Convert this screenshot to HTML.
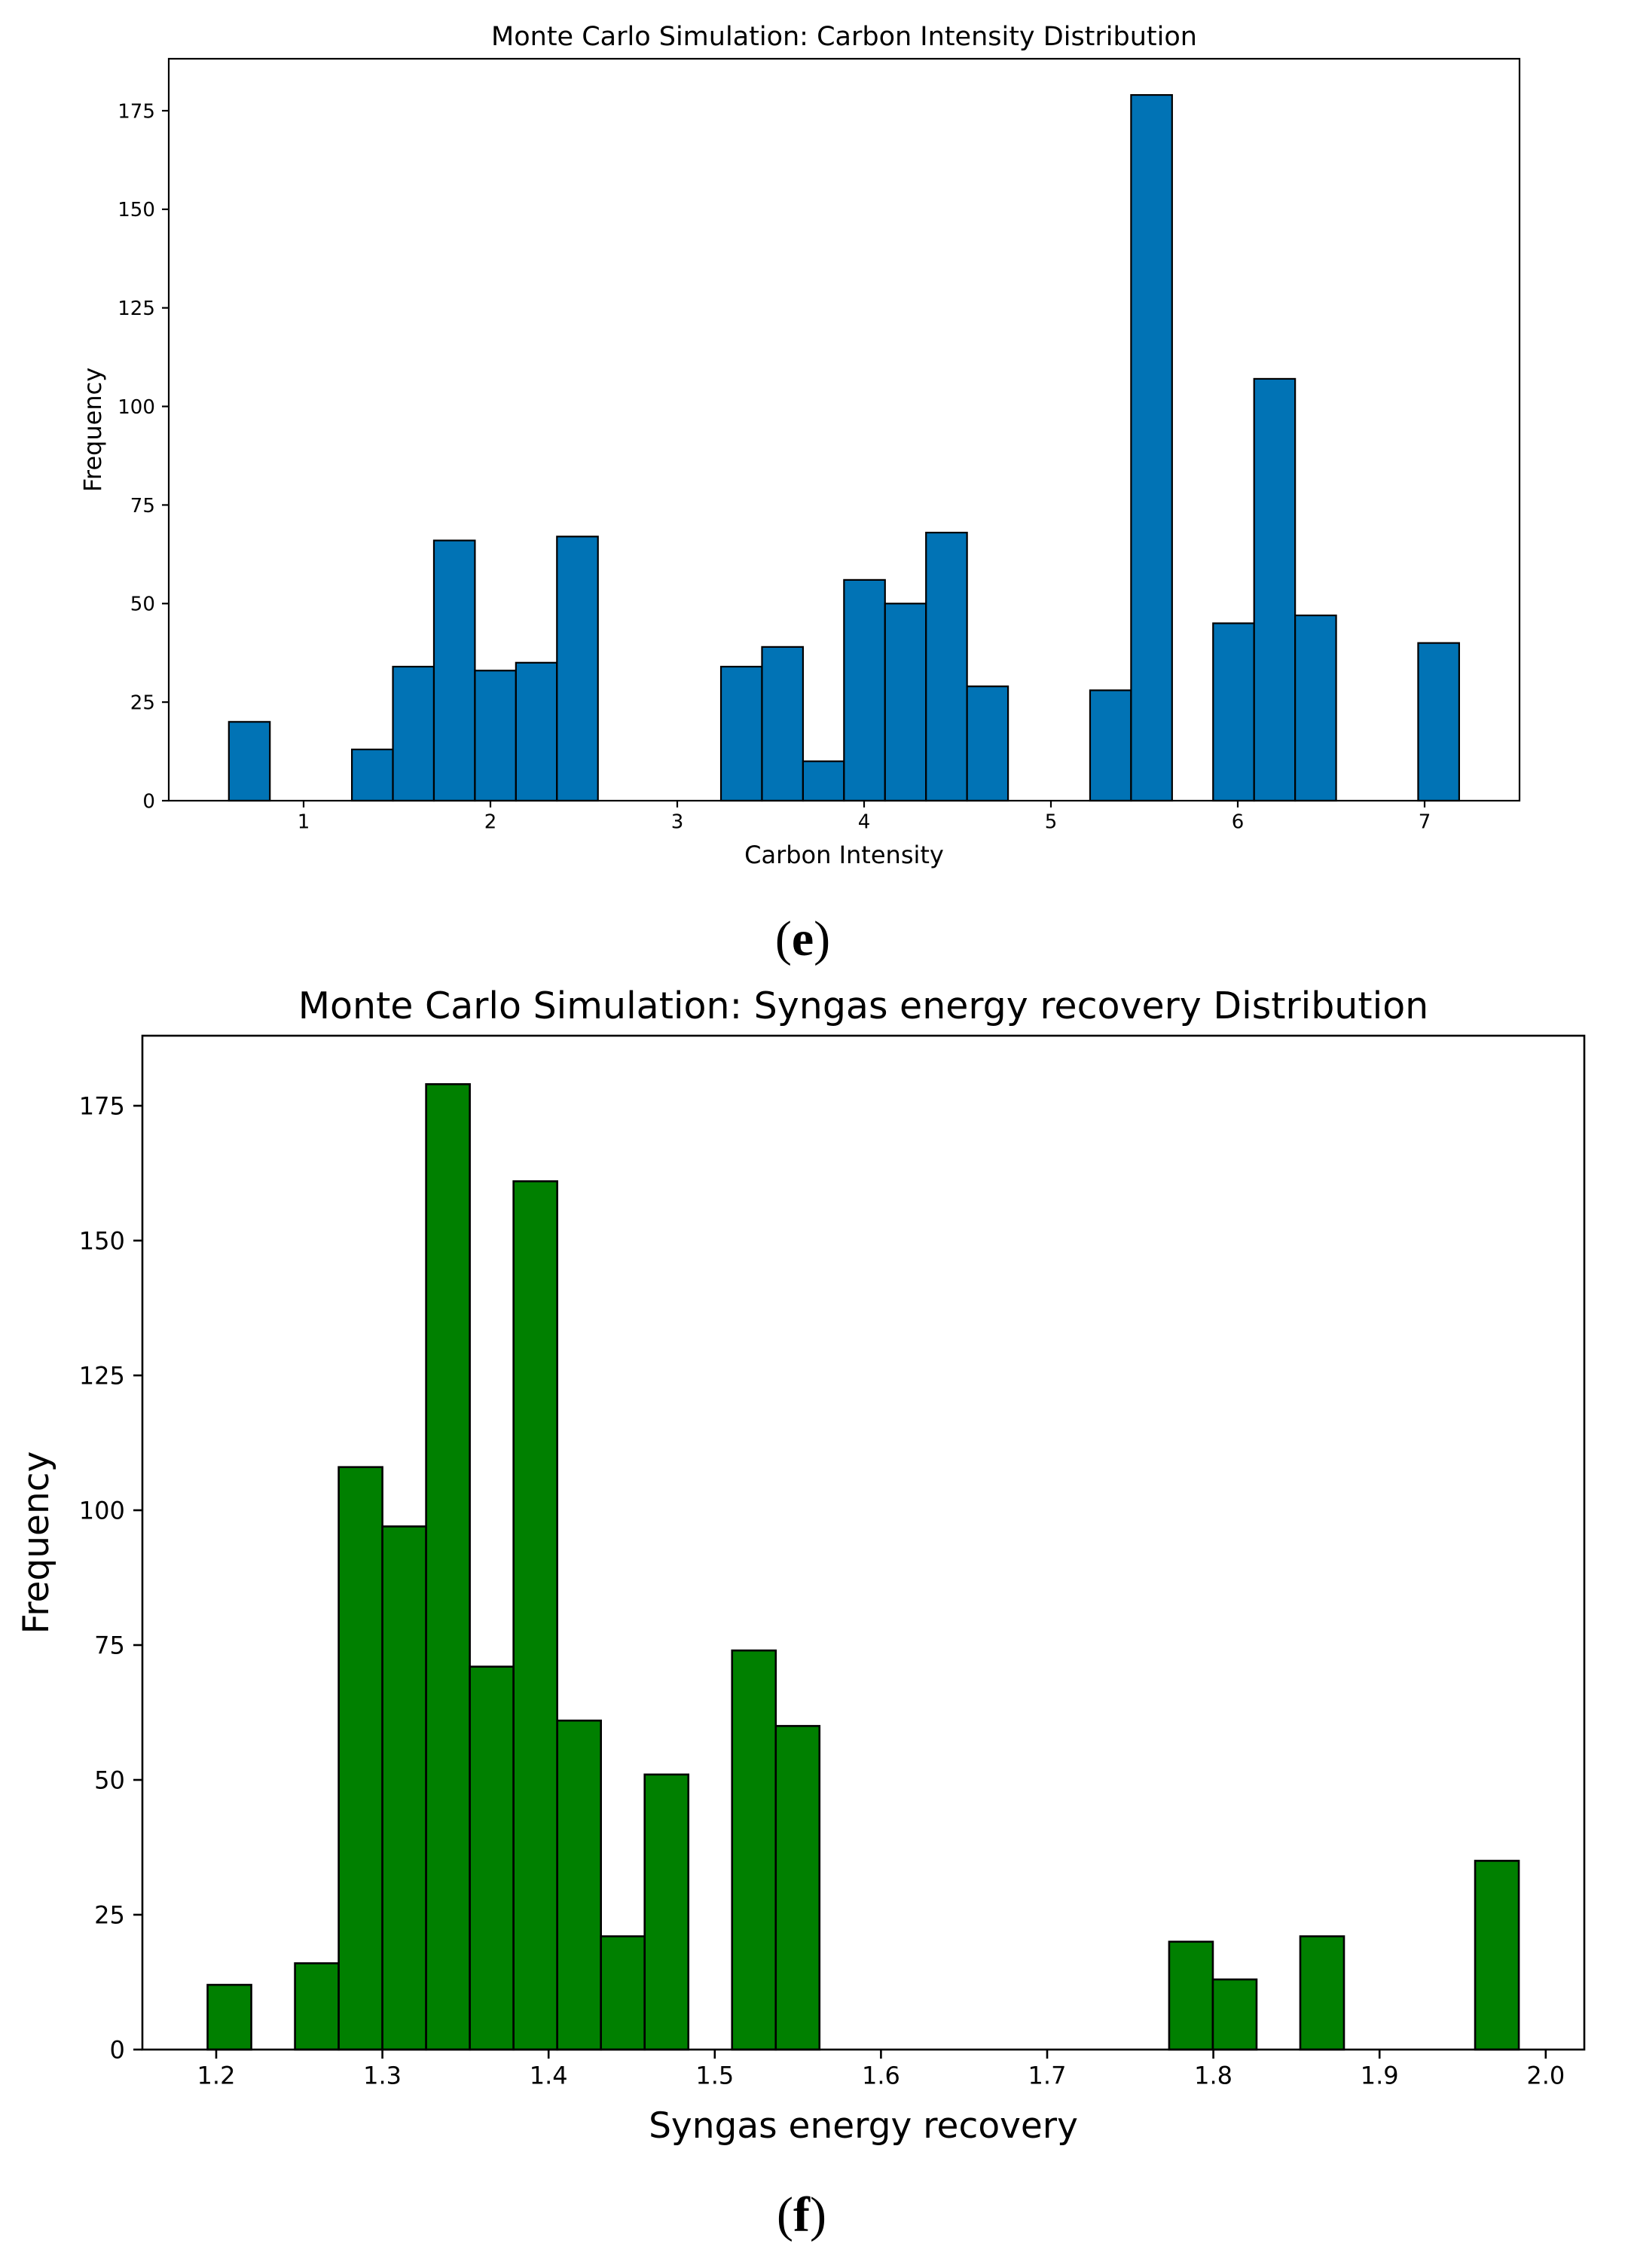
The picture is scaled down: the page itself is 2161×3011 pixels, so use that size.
<!DOCTYPE html>
<html><head><meta charset="utf-8"><style>
html,body{margin:0;padding:0;background:#fff;}
svg{display:block;font-family:"DejaVu Sans","Liberation Sans",sans-serif;}
</style></head><body>
<svg id="s" width="2161" height="3011" viewBox="0 0 2161 3011">
<rect width="2161" height="3011" fill="#fff"/>
</svg>
<script>
// Chart (e) data
const eStart = 0.6;
const eBinWidth = 0.2195;
const eCounts = [20,0,0,13,34,66,33,35,67,0,0,0,34,39,10,56,50,68,29,0,0,28,179,0,45,107,47,0,0,40];
const eXTicks = [1,2,3,4,5,6,7];
const eYTicks = [0,25,50,75,100,125,150,175];
// Chart (f) data
const fStart = 1.1948;
const fBinWidth = 0.0263;
const fCounts = [12,0,16,108,97,179,71,161,61,21,51,0,74,60,0,0,0,0,0,0,0,0,20,13,0,21,0,0,0,35];
const fXTicks = ["1.2","1.3","1.4","1.5","1.6","1.7","1.8","1.9","2.0"];
const fYTicks = [0,25,50,75,100,125,150,175];

const NS="http://www.w3.org/2000/svg";
const svg=document.getElementById('s');
function mk(tag,attrs,parent,text){const e=document.createElementNS(NS,tag);for(const k in attrs)e.setAttribute(k,attrs[k]);if(text!==undefined)e.textContent=text;(parent||svg).appendChild(e);return e;}

function chart(o){
  const g=mk('g',{});
  
  
  const xs=v=>o.xRefPx+(v-o.xRef)*o.ppu;
  const ys=v=>o.B-v*(o.B-o.y175)/175;
  o.counts.forEach((c,i)=>{
    if(c<=0)return;
    const a=xs(o.start+i*o.bw),b=xs(o.start+(i+1)*o.bw);
    const r=mk('rect',{x:a,y:ys(c),width:b-a,height:o.B-ys(c),fill:o.color,stroke:'#000','stroke-width':o.sw},g);
    
    
  });
  const f=mk('rect',{x:o.L,y:o.T,width:o.R-o.L,height:o.B-o.T,fill:'none',stroke:'#000','stroke-width':o.sw},g);
  
  
  o.xt.forEach(t=>{
    const x=xs(parseFloat(t));
    mk('line',{x1:x,x2:x,y1:o.B,y2:o.B+o.tl,stroke:'#000','stroke-width':o.sw},g);
    const tx=mk('text',{x:x,y:o.B+o.tl+o.tf*1.05,'font-size':o.tf,'text-anchor':'middle'},g,String(t));
    
    
  });
  o.yt.forEach(t=>{
    const y=ys(t);
    mk('line',{x1:o.L-o.tl,x2:o.L,y1:y,y2:y,stroke:'#000','stroke-width':o.sw},g);
    const tx=mk('text',{x:o.L-o.tl-o.tf*0.35,y:y+o.tf*0.36,'font-size':o.tf,'text-anchor':'end'},g,String(t));
    
    
  });
  const ti=mk('text',{x:(o.L+o.R)/2,y:o.titleY,'font-size':o.titleF,'text-anchor':'middle'},g,o.title);
  
  
  const xl=mk('text',{x:(o.L+o.R)/2,y:o.xlY,'font-size':o.labF,'text-anchor':'middle'},g,o.xlabel);
  
  
  const yl=mk('text',{x:0,y:0,'font-size':o.labF,'text-anchor':'middle',transform:`translate(${o.ylX},${(o.T+o.B)/2}) rotate(-90)`},g,'Frequency');
  
  
  const p=mk('text',{x:(o.L+o.R)/2+o.pOff,y:o.pY,'font-size':66,'text-anchor':'middle','font-family':'Liberation Serif, serif'},g,'');
  
  
  mk('tspan',{},p,'(');mk('tspan',{'font-weight':'bold'},p,o.panel);mk('tspan',{},p,')');
}
chart({name:'chart-e',L:224,R:2017,T:78,B:1063,xRef:1,xRefPx:403,ppu:248,y175:147,
  start:eStart,bw:eBinWidth,counts:eCounts,xt:eXTicks,yt:eYTicks,color:'#0173b5',sw:2.2,tl:9,tf:26,
  title:'Monte Carlo Simulation: Carbon Intensity  Distribution',titleY:60,titleF:35,
  xlabel:'Carbon Intensity',xlY:1146,labF:32,ylX:134,panel:'e',pY:1268,pOff:-55});
chart({name:'chart-f',L:189,R:2103,T:1375,B:2721,xRef:1.2,xRefPx:287,ppu:2206,y175:1468,
  start:fStart,bw:fBinWidth,counts:fCounts,xt:fXTicks,yt:fYTicks,color:'#008000',sw:2.6,tl:12,tf:32,
  title:'Monte Carlo Simulation: Syngas energy recovery Distribution',titleY:1352,titleF:49,
  xlabel:'Syngas energy recovery',xlY:2838,labF:47,ylX:64,panel:'f',pY:2962,pOff:-82});
</script>
</body></html>
